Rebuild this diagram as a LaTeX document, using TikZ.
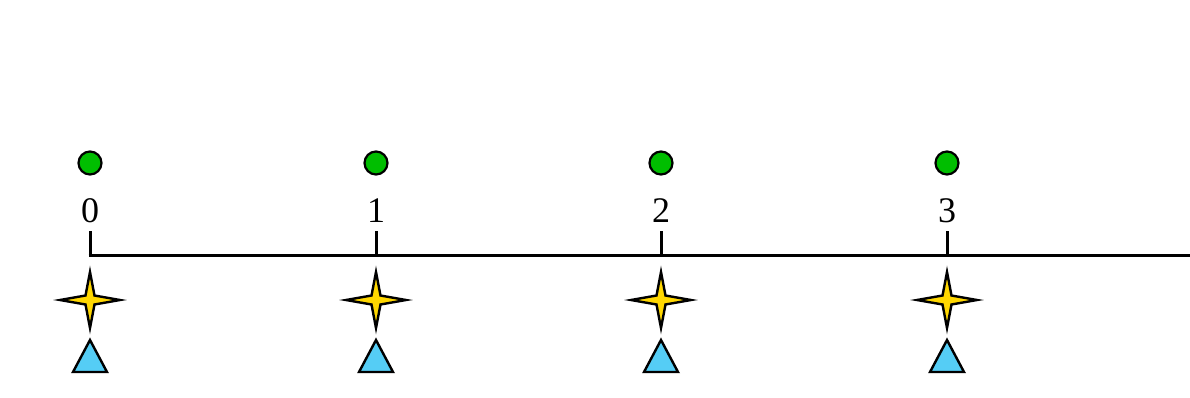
\documentclass[tikz,border=0pt]{standalone}
\usepackage{fontspec}
\setmainfont{Liberation Serif}
\begin{document}
\begin{tikzpicture}[x=1pt,y=-1pt,
  axisline/.style={line width=3pt,line cap=butt},
  dotmark/.style={circle,draw=black,fill={rgb,255:red,0;green,190;blue,0},line width=2.2pt,minimum size=23pt,inner sep=0pt},
  numlabel/.style={font=\fontsize{36}{36}\selectfont,inner sep=0pt},
  starmark/.style={draw=black,fill={rgb,255:red,255;green,215;blue,0},line width=2.4pt,line join=miter,miter limit=6},
  trimark/.style={draw=black,fill={rgb,255:red,85;green,205;blue,245},line width=2.4pt,line join=miter}]
\useasboundingbox (0,0) rectangle (1190,397);
\coordinate (axisend) at (1192,255);
\foreach \i/\x in {0/90,1/376,2/661,3/947}{
  \coordinate (t\i) at (\x,255);
  \coordinate (tt\i) at (\x,231);
  \node[dotmark] (d\i) at (\x,163) {};
  \node[numlabel] (n\i) at (\x,211) {\i};
  \draw[axisline] (t\i) -- (tt\i);
  \path[starmark] (\x,272) -- (\x+4.5,295.5) -- (\x+30,300) -- (\x+4.5,304.5) -- (\x,328) -- (\x-4.5,304.5) -- (\x-30,300) -- (\x-4.5,295.5) -- cycle;
  \path[trimark] (\x,340) -- (\x+17,372) -- (\x-17,372) -- cycle;
}
\draw[axisline] ([xshift=-1.5pt]t0) -- (axisend);
\end{tikzpicture}
\end{document}
